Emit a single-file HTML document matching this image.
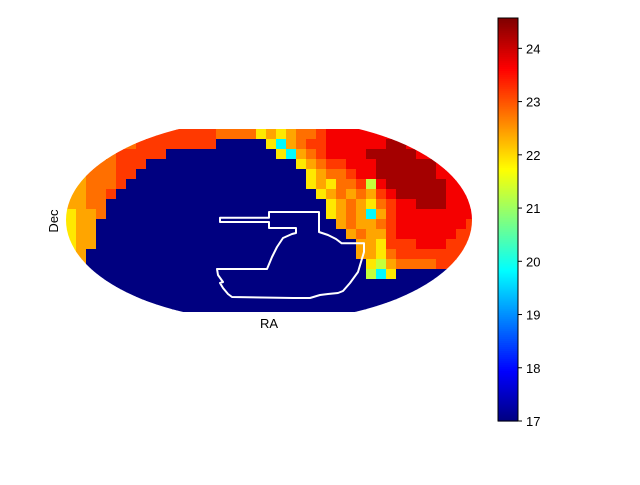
<!DOCTYPE html>
<html><head><meta charset="utf-8">
<style>
body{margin:0;background:#fff;}
svg text{font-family:"Liberation Sans",sans-serif;}
</style></head>
<body>
<svg id="chart" width="640" height="480" viewBox="0 0 640 480" xmlns="http://www.w3.org/2000/svg">
<defs>
<clipPath id="ell"><ellipse cx="269" cy="220" rx="203" ry="101.5"/></clipPath>
<clipPath id="box"><rect x="60" y="129" width="420" height="183"/></clipPath>
</defs>
<g clip-path="url(#box)"><g id="cells" clip-path="url(#ell)"></g></g>
<polygon fill="none" stroke="#fff" stroke-width="2" stroke-linejoin="round"
points="220,217.7 269,217.7 269,212 319,212 319,232 328,235 336,239 341.7,243.3 364,243.3 364,252 358,272 350,283 343,291 338,293 328,294 320,295 310,298 300,298 293,298 232,297 228,294 223,288 220,283 223,282 218,275 217,269 267,269 272,257 277,247 283,238 292,234 296,233 296,228 269,228 269,222 220,222"/>
<text x="269" y="328" font-size="13" text-anchor="middle">RA</text>
<text x="58" y="221" font-size="13" text-anchor="middle" transform="rotate(-90 58 221)">Dec</text>
<g id="cbar"></g>
</svg>
<script>
const vmin = 17, vmax = 24.57;
const levelValues = [17, 19.8, 21.3, 21.9, 22.4, 22.8, 23.2, 23.7, 24.3];
const gridRows = [
"66666666666666655553434556777777777777777",
"55555556666666600000314566777777887777777",
"45555666660000000000031456777788888777777",
"45555666000000000000000345667778888887777",
"44555660000000000000000034556778888887777",
"44555600000000000000000034355627888888777",
"44556000000000000000000003454546788888777",
"44550000000000000000000000345435677888777",
"34450000000000000000000000345414677777777",
"34400000000000000000000000045445677777776",
"34400000000000000000000000004544677777766",
"34400000000000000000000000000443666777666",
"34000000000000000000000000000443566666666",
"34000000000000000000000000000032455556660",
"00000000000000000000000000000021300000000",
"00000000000000000000000000000000000000000",
"00000000000000000000000000000000000000000",
"00000000000000000000000000000000000000000",
"00000000000000000000000000000000000000000"
];
const cbTicks = [17, 18, 19, 20, 21, 22, 23, 24];
const NS = "http://www.w3.org/2000/svg";
function clamp(v){return Math.max(0, Math.min(1, v));}
function jet(v){
  const t = clamp((v - vmin) / (vmax - vmin));
  const r = clamp(1.5 - Math.abs(4*t - 3)), g = clamp(1.5 - Math.abs(4*t - 2)), b = clamp(1.5 - Math.abs(4*t - 1));
  return "rgb(" + Math.round(r*255) + "," + Math.round(g*255) + "," + Math.round(b*255) + ")";
}
const x0 = 66, y0 = 129, cw = 10, ch = 10;
const cells = document.getElementById("cells");
gridRows.forEach(function(row, r){
  for (let c = 0; c < 41; c++){
    const ch0 = row[c] || "0";
    const v = levelValues[parseInt(ch0, 10)];
    const rect = document.createElementNS(NS, "rect");
    rect.setAttribute("x", x0 + c*cw);
    rect.setAttribute("y", y0 + r*ch);
    rect.setAttribute("width", cw + 0.5);
    rect.setAttribute("height", ch + 0.5);
    rect.setAttribute("fill", jet(v));
    
    
    cells.appendChild(rect);
  }
});
const cb = document.getElementById("cbar");
const cbX = 498, cbW = 20, cbTop = 18, cbBot = 421;
function cbY(v){return cbBot - (v - vmin) / (vmax - vmin) * (cbBot - cbTop);}
for (let i = 0; i < 200; i++){
  const v = vmin + (vmax - vmin) * (i + 0.5) / 200;
  const rr = document.createElementNS(NS, "rect");
  const ya = cbY(vmin + (vmax - vmin) * (i + 1) / 200);
  rr.setAttribute("x", cbX); rr.setAttribute("y", ya);
  rr.setAttribute("width", cbW); rr.setAttribute("height", (cbBot - cbTop)/200 + 0.6);
  rr.setAttribute("fill", jet(v));
  
  
  cb.appendChild(rr);
}
const frame = document.createElementNS(NS, "rect");
frame.setAttribute("x", cbX); frame.setAttribute("y", cbTop);
frame.setAttribute("width", cbW); frame.setAttribute("height", cbBot - cbTop);
frame.setAttribute("fill", "none"); frame.setAttribute("stroke", "#000"); frame.setAttribute("stroke-width", "1");


cb.appendChild(frame);
cbTicks.forEach(function(t){
  const y = cbY(t);
  const ln = document.createElementNS(NS, "line");
  ln.setAttribute("x1", cbX + cbW); ln.setAttribute("x2", cbX + cbW + 4);
  ln.setAttribute("y1", y); ln.setAttribute("y2", y);
  ln.setAttribute("stroke", "#000");
  
  
  cb.appendChild(ln);
  const tx = document.createElementNS(NS, "text");
  tx.setAttribute("x", cbX + cbW + 8); tx.setAttribute("y", y + 5);
  tx.setAttribute("font-size", "13");
  tx.textContent = t;
  
  
  cb.appendChild(tx);
});
</script>
</body></html>
